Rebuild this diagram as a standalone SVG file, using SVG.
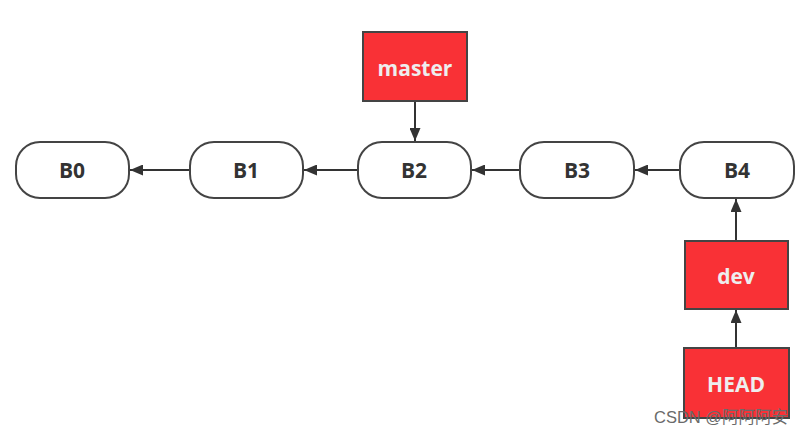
<svg xmlns="http://www.w3.org/2000/svg" width="807" height="436" viewBox="0 0 807 436">
<defs>
<style>
.commit{fill:#fff;stroke:#444;stroke-width:2}
.branch{fill:#f93136;stroke:#444;stroke-width:2}
.ct{font-family:"Open Sans","Noto Sans",sans-serif;font-weight:bold;font-size:21px;fill:#333;text-anchor:middle;dominant-baseline:central}
.bt{font-family:"Open Sans","Noto Sans",sans-serif;font-weight:bold;font-size:21px;fill:#eee;text-anchor:middle;dominant-baseline:central}
.edge{stroke:#333;stroke-width:2;fill:none;marker-end:url(#ah)}
.wm{font-family:"Liberation Sans","Noto Sans CJK SC",sans-serif;font-size:16.5px;fill:#6a6a6a}
</style>
<marker id="ah" viewBox="0 0 13 11" refX="13" refY="5.5" markerWidth="13" markerHeight="11" markerUnits="userSpaceOnUse" orient="auto">
<path d="M0,0 L13,5.5 L0,11 Z" fill="#333"/>
</marker>
</defs>
<rect width="807" height="436" fill="#fff"/>
<g id="connectors">
<line class="edge" x1="190" y1="170" x2="130" y2="170"/>
<line class="edge" x1="358" y1="170" x2="304" y2="170"/>
<line class="edge" x1="520" y1="170" x2="472" y2="170"/>
<line class="edge" x1="680" y1="170" x2="635" y2="170"/>
<line class="edge" x1="415" y1="101" x2="415" y2="141"/>
<line class="edge" x1="736" y1="241" x2="736" y2="199"/>
<line class="edge" x1="736" y1="348" x2="736" y2="310"/>
</g>
<g id="B0"><rect class="commit" x="16" y="142" width="113" height="56" rx="24"/><text class="ct" x="72" y="170">B0</text></g>
<g id="B1"><rect class="commit" x="190" y="142" width="113" height="56" rx="24"/><text class="ct" x="246" y="170">B1</text></g>
<g id="B2"><rect class="commit" x="358" y="142" width="113" height="56" rx="24"/><text class="ct" x="414" y="170">B2</text></g>
<g id="B3"><rect class="commit" x="520" y="142" width="114" height="56" rx="24"/><text class="ct" x="577" y="170">B3</text></g>
<g id="B4"><rect class="commit" x="680" y="142" width="114" height="56" rx="24"/><text class="ct" x="737" y="170">B4</text></g>
<g id="master"><rect class="branch" x="363" y="32" width="104" height="69"/><text class="bt" x="415" y="68">master</text></g>
<g id="dev"><rect class="branch" x="685" y="241" width="103" height="68"/><text class="bt" x="736" y="276">dev</text></g>
<g id="HEAD"><rect class="branch" x="684" y="348" width="105" height="70"/><text class="bt" x="736" y="384">HEAD</text></g>
<text class="wm" x="654" y="423">CSDN @阿阿阿安</text>
</svg>
